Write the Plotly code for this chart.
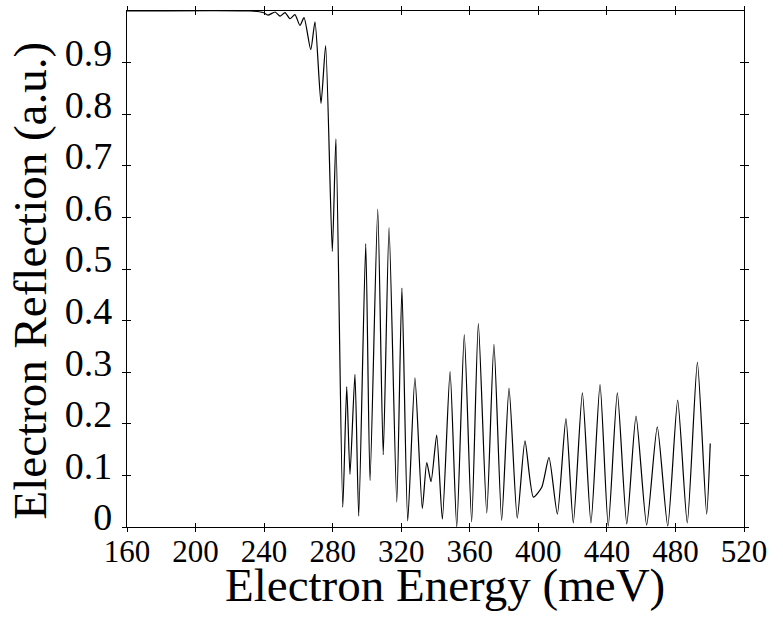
import plotly.graph_objects as go

energy = [160, 232.0, 239.4, 242.3, 246.4, 249.3, 252.2, 255.1, 258.0, 260.9, 263.3,
          267.2, 269.7, 273.2, 275.9, 279.8, 281.9, 285.9, 288.2, 290.1, 293.0,
          295.2, 299.3, 301.8, 306.3, 309.5, 312.9, 317.4, 320.4, 323.8, 328.0,
          332.3, 334.9, 337.4, 340.7, 344.0, 348.5, 352.4, 356.8, 361.1, 365.0,
          369.9, 374.1, 378.6, 382.9, 387.7, 392.2, 397.1, 402.0, 406.2, 411.1,
          416.1, 420.4, 425.7, 430.7, 436.0, 440.8, 446.1, 451.6, 457.0, 463.2,
          469.4, 475.5, 481.3, 486.9, 492.8, 498.2, 500.3]
reflection = [1.0, 1.0, 0.997, 0.992, 0.998, 0.99, 0.997, 0.985, 0.993, 0.972, 0.987,
              0.925, 0.979, 0.821, 0.933, 0.534, 0.752, 0.038, 0.272, 0.102, 0.296,
              0.021, 0.549, 0.09, 0.616, 0.14, 0.58, 0.048, 0.463, 0.012, 0.289,
              0.036, 0.125, 0.088, 0.178, 0.015, 0.301, 0.0, 0.373, 0.01, 0.394,
              0.027, 0.354, 0.013, 0.269, 0.017, 0.167, 0.058, 0.077, 0.135, 0.025,
              0.21, 0.008, 0.26, 0.008, 0.276, 0.002, 0.26, 0.006, 0.215, 0.004,
              0.194, 0.002, 0.246, 0.008, 0.319, 0.025, 0.162]

x_ticks = [160, 200, 240, 280, 320, 360, 400, 440, 480, 520]
y_ticks = [0, 0.1, 0.2, 0.3, 0.4, 0.5, 0.6, 0.7, 0.8, 0.9]
y_tick_text = ["0", "0.1", "0.2", "0.3", "0.4", "0.5", "0.6", "0.7", "0.8", "0.9"]
x_title = "Electron Energy (meV)"
y_title = "Electron Reflection (a.u.)"

FONT = "Liberation Serif"

fig = go.Figure()
fig.add_trace(go.Scatter(x=energy, y=reflection, mode="lines",
                         line=dict(color="black", width=1.2, shape="spline", smoothing=0.6),
                         hoverinfo="skip", showlegend=False))
fig.add_trace(go.Scatter(x=[160], y=[0], xaxis="x2", yaxis="y2", mode="markers",
                         marker=dict(opacity=0), hoverinfo="skip", showlegend=False))

axis_common = dict(showgrid=False, zeroline=False, showline=True, linecolor="black",
                   linewidth=1.2, tickcolor="black", tickwidth=1.2, ticklen=4)

fig.update_layout(
    width=783, height=619,
    margin=dict(l=127, r=39, t=6, b=92),
    paper_bgcolor="white", plot_bgcolor="white",
    font=dict(family=FONT, color="black"),
    xaxis=dict(range=[160, 520], tickvals=x_ticks, ticks="inside", mirror="allticks",
               tickfont=dict(size=31, family=FONT), ticklabelstandoff=-3,
               **axis_common),
    yaxis=dict(range=[0, 1.0], tickvals=y_ticks, ticktext=y_tick_text, ticks="inside",
               mirror="allticks", tickfont=dict(size=38, family=FONT), ticklabelshift=-10,
               ticklabelstandoff=6,
               **axis_common),
    xaxis2=dict(range=[160, 520], tickvals=x_ticks, ticks="outside", mirror="allticks",
                showticklabels=False, overlaying="x", anchor="y2", **axis_common),
    yaxis2=dict(range=[0, 1.0], tickvals=y_ticks, ticks="outside", mirror="allticks",
                showticklabels=False, overlaying="y", anchor="x2", **axis_common),
    annotations=[
        dict(text=x_title, xref="paper", yref="paper", x=0.515, y=-0.112,
             xanchor="center", yanchor="middle", showarrow=False, borderpad=0,
             font=dict(size=47, family=FONT, color="black")),
        dict(text=y_title, xref="paper", yref="paper", x=-0.157, y=0.478,
             xanchor="center", yanchor="middle", showarrow=False, textangle=-90,
             borderpad=0, font=dict(size=47, family=FONT, color="black")),
    ],
)

fig.write_html("out.html")
